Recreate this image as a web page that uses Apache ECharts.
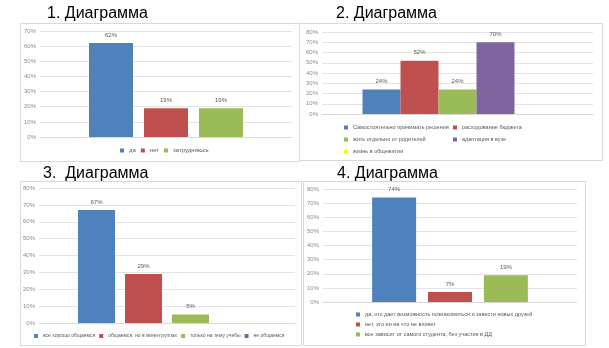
<!DOCTYPE html>
<html><head><meta charset="utf-8">
<script src="https://cdn.jsdelivr.net/npm/echarts@6/dist/echarts.min.js"></script>
<style>html,body{margin:0;padding:0;background:#fff}#c{width:609px;height:348px}</style>
</head><body><div id="c"></div>
<script>
const titles = ['1. Диаграмма', '2. Диаграмма', '3.  Диаграмма', '4. Диаграмма'];
const c1Names = ['да', 'нет', 'затрудняюсь'];
const c1Values = [62, 19, 19];
const c2Names = ['Самостоятельно принимать решения', 'расходование бюджета', 'жить отдельно от родителей', 'адаптация в вузе', 'жизнь в общежитии'];
const c2Values = [24, 52, 24, 70, null];
const c3Names = ['все хорошо общаемся', 'общаемся, но в мини-группах', 'только на тему учебы', 'не общаемся'];
const c3Values = [67, 29, 5, null];
const c4Names = ['да, это дает возможность познакомиться и завести новых друзей', 'нет, это ни на что не влияет', 'все зависит от самого студента, без участия в ДД'];
const c4Values = [74, 7, 19];
const yMax = [70, 80, 80, 80];

const colors = ['#4F81BD', '#C0504D', '#9BBB59', '#8064A2', '#FFFF00'];
const FONT = 'Liberation Sans, Arial, sans-serif';
const grids = [
  {left: 40, top: 31, width: 252, height: 106},
  {left: 322, top: 32, width: 271, height: 82},
  {left: 39, top: 188, width: 256, height: 135},
  {left: 323, top: 189, width: 254, height: 113}
];
const barW = [44, 38, 37, 44];
const barGap = ['25%', '0%', '27%', '27%'];
const charts = [[c1Names, c1Values], [c2Names, c2Values], [c3Names, c3Values], [c4Names, c4Values]];

const xAxis = [], yAxis = [], series = [];
charts.forEach((ch, k) => {
  xAxis.push({type: 'category', gridIndex: k, data: [''], axisLabel: {show: false}, axisTick: {show: false},
    axisLine: {show: true, lineStyle: {color: '#d9d9d9'}}});
  yAxis.push({type: 'value', gridIndex: k, min: 0, max: yMax[k], interval: 10,
    axisLabel: {formatter: '{value}%', fontSize: 6, color: '#8c8c8c', fontFamily: FONT, margin: 4},
    splitLine: {lineStyle: {color: '#e3e3e3'}}, axisLine: {show: false}, axisTick: {show: false}});
  ch[0].forEach((n, i) => {
    series.push({type: 'bar', name: n, xAxisIndex: k, yAxisIndex: k, data: [ch[1][i]],
      barWidth: barW[k], barGap: barGap[k], itemStyle: {color: colors[i]},
      label: {show: true, position: 'top', formatter: '{c}%', fontSize: 6, color: '#595959', fontFamily: FONT, distance: 5},
      animation: false});
  });
});

const legStyle = {fontSize: 5.5, color: '#595959', fontFamily: FONT};
const mk = (names, opts) => Object.assign({data: names, icon: 'rect', itemWidth: 4, itemHeight: 4, itemGap: 4,
  textStyle: legStyle, padding: 0, selectedMode: false}, opts);
const legend = [
  mk(c1Names, {left: 120, top: 147.5, itemGap: 5, textStyle: Object.assign({}, legStyle, {fontSize: 6})}),
  mk([c2Names[0]], {left: 344, top: 124.5}),
  mk([c2Names[1]], {left: 453, top: 124.5}),
  mk([c2Names[2]], {left: 344, top: 136.5}),
  mk([c2Names[3]], {left: 453, top: 136.5}),
  mk([c2Names[4]], {left: 344, top: 148.5}),
  mk(c3Names, {left: 34, top: 333.5, textStyle: Object.assign({}, legStyle, {fontSize: 5})}),
  mk(c4Names, {left: 356, top: 311.5, orient: 'vertical', itemGap: 4})
];

const titlePos = [[47, 6], [336, 6], [43, 166], [337, 166]];
const title = titles.map((t, i) => ({text: t, left: titlePos[i][0], top: titlePos[i][1], padding: 0,
  textStyle: {fontSize: 16, fontWeight: 'normal', color: '#000', fontFamily: FONT}}));

const boxes = [[20, 23, 279, 138], [299, 23, 303, 137], [20, 181, 281, 164], [303, 181, 282, 164]];
const graphic = boxes.map(b => ({type: 'rect', shape: {x: b[0] + 0.5, y: b[1] + 0.5, width: b[2], height: b[3]},
  style: {fill: 'none', stroke: '#d9d9d9', lineWidth: 1}, z: -1}));

const chart = echarts.init(document.getElementById('c'), null, {renderer: 'canvas'});
chart.setOption({animation: false, title, grid: grids, xAxis, yAxis, series, legend, graphic});
</script></body></html>
